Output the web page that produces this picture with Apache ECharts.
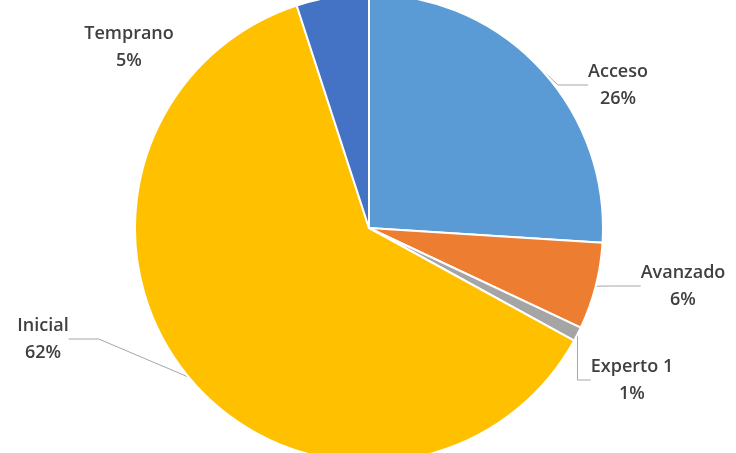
<!DOCTYPE html>
<html>
<head>
<meta charset="utf-8">
<script src="https://cdn.jsdelivr.net/npm/echarts@6/dist/echarts.min.js"></script>
<style>
  html, body { margin: 0; padding: 0; background: #fff; }
  #chart { width: 736px; height: 453px; }
</style>
</head>
<body>
<div id="chart"></div>
<script>
const categories = ['Acceso', 'Avanzado', 'Experto 1', 'Inicial', 'Temprano']
const shares = [26, 6, 1, 62, 5]
const colors = ['#5B9BD5', '#ED7D31', '#A5A5A5', '#FFC000', '#4472C4']

// where each label block sits (centre)
const labelPos = [[618, 85], [683, 286], [632, 380], [43, 339], [129, 47]]

const myChart = echarts.init(document.getElementById('chart'))

const option = {
  animation: false,
  backgroundColor: '#fff',
  series: [{
    type: 'pie',
    center: [369, 228],
    radius: 234,
    startAngle: 90,
    clockwise: true,
    itemStyle: { borderColor: '#fff', borderWidth: 2 },
    label: {
      show: true,
      formatter: '{b}\n{d}%',
      color: '#404040',
      fontFamily: 'Open Sans',
      fontWeight: 600,
      fontSize: 18,
      lineHeight: 27,
      align: 'center',
      overflow: 'none'
    },
    labelLine: {
      show: true,
      lineStyle: { color: '#A6A6A6', width: 1 }
    },
    labelLayout: params => {
      const p = labelPos[params.dataIndex]
      return { x: p[0], y: p[1], align: 'center', verticalAlign: 'middle' }
    },
    data: categories.map((name, i) => ({
      name,
      value: shares[i],
      itemStyle: { color: colors[i] },
      labelLine: name === 'Temprano' ? { show: false } : undefined
    }))
  }]
}

myChart.setOption(option)
</script>
</body>
</html>
